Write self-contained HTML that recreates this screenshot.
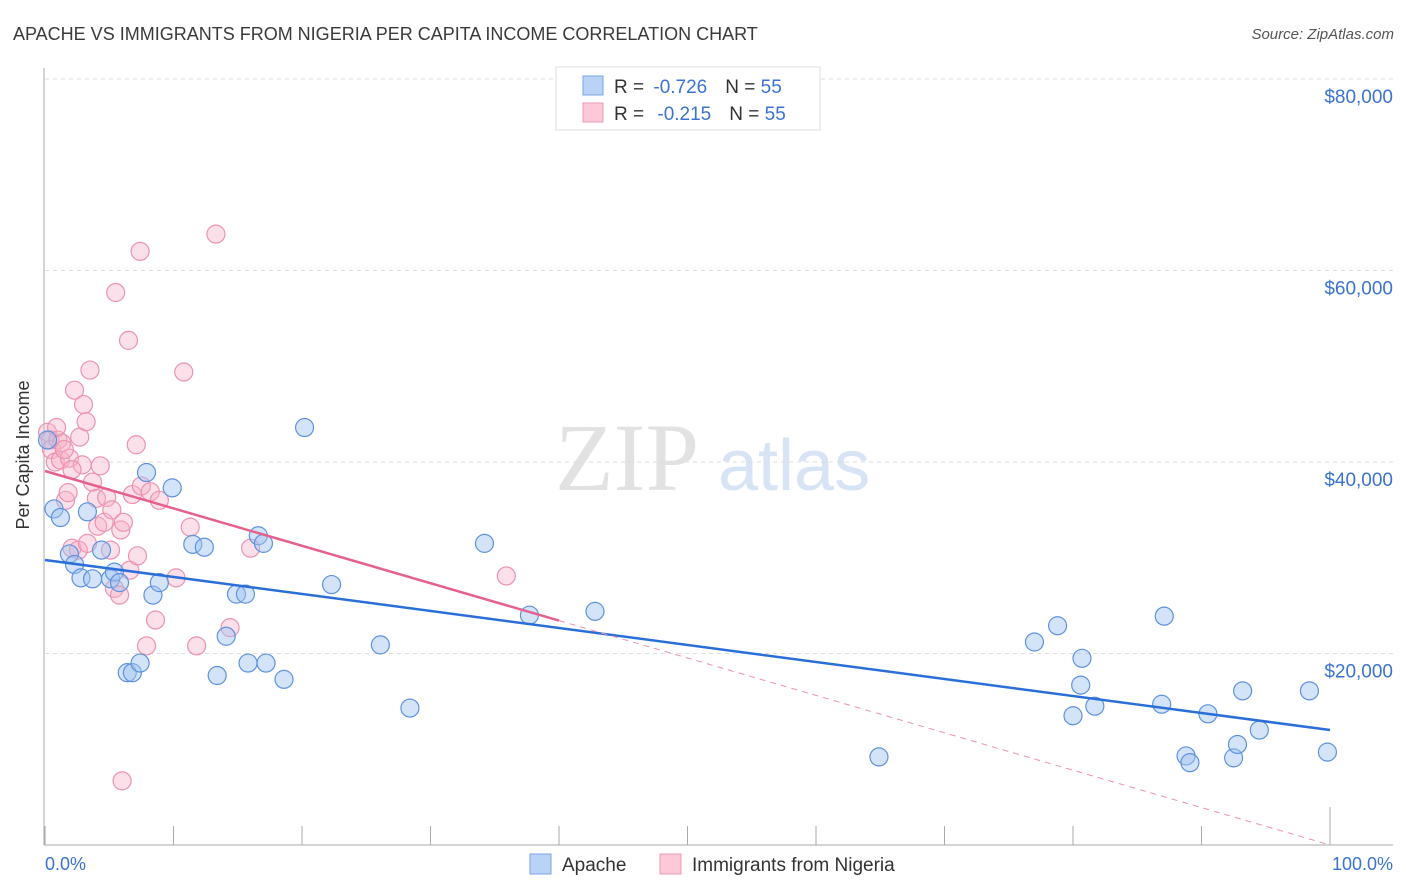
<!DOCTYPE html>
<html><head><meta charset="utf-8"><style>
body{margin:0;background:#fff;font-family:"Liberation Sans",sans-serif;}
svg{display:block}
</style></head><body>
<svg id="chart" width="1406" height="892" viewBox="0 0 1406 892">
<text x="13" y="40" font-size="18" fill="#3a3a3a">APACHE VS IMMIGRANTS FROM NIGERIA PER CAPITA INCOME CORRELATION CHART</text>
<text x="1394" y="39" font-size="15" fill="#555" font-style="italic" text-anchor="end">Source: ZipAtlas.com</text>
<g>
<text x="555" y="490" font-size="96" font-family="Liberation Serif,serif" fill="#e2e2e2">ZIP</text>
<text x="718" y="490" font-size="72" fill="#d6e4f5">atlas</text>
</g>
<g id="grid"></g>
<line x1="44" y1="68" x2="44" y2="845" stroke="#aaa"/>
<line x1="44" y1="845" x2="1393" y2="845" stroke="#aaa"/>
<g id="ticks"></g>
<text x="29" y="455" font-size="18" fill="#333" text-anchor="middle" transform="rotate(-90 29 455)">Per Capita Income</text>
<text x="45" y="870" font-size="18" fill="#3b73d1">0.0%</text>
<text x="1393" y="870" font-size="18" fill="#3b73d1" text-anchor="end">100.0%</text>
<g id="points"></g>
<g id="lines"></g>
<g>
<rect x="556" y="67" width="264" height="63" fill="#fff" stroke="#ddd"/>
<rect x="583" y="76" width="20" height="19" fill="#b8d3f5" stroke="#7aa6e6"/>
<rect x="583" y="103" width="20" height="19" fill="#fcc9d8" stroke="#ee9ab5"/>
<text x="614" y="93" font-size="19" fill="#333">R = <tspan fill="#3b73d1" dx="4">-0.726</tspan><tspan dx="18" fill="#333">N = </tspan><tspan fill="#3b73d1">55</tspan></text>
<text x="614" y="120" font-size="19" fill="#333">R = <tspan fill="#3b73d1" dx="8">-0.215</tspan><tspan dx="18" fill="#333">N = </tspan><tspan fill="#3b73d1">55</tspan></text>
</g>
<g>
<rect x="530" y="854" width="21" height="20" fill="#b8d3f5" stroke="#7aa6e6"/>
<text x="562" y="871" font-size="19" fill="#333">Apache</text>
<rect x="660" y="854" width="21" height="20" fill="#fcc9d8" stroke="#ee9ab5"/>
<text x="692" y="871" font-size="19" fill="#333">Immigrants from Nigeria</text>
</g>
</svg>
<script>
const yTicks=[20000,40000,60000,80000];
const yTickLabels=["$20,000","$40,000","$60,000","$80,000"];
const xTickPcts=[0,10,20,30,40,50,60,70,80,90,100];
const apacheX=[0.7,1.2,1.9,2.3,2.8,3.3,3.7,4.4,5.1,5.4,5.8,6.4,6.8,7.4,7.9,8.4,8.9,9.9,11.5,12.4,13.4,14.1,14.9,15.6,15.8,16.6,17.0,17.2,18.6,20.2,22.3,26.1,28.4,34.2,37.7,42.8,64.9,77.0,78.8,80.0,80.6,80.7,81.7,86.9,87.1,88.8,89.1,90.5,92.5,92.8,93.2,94.5,98.4,99.8,0.2];
const apacheY=[35.1,34.2,30.4,29.3,27.9,34.8,27.8,30.8,27.8,28.5,27.4,18.0,18.0,19.0,38.9,26.1,27.4,37.3,31.4,31.1,17.7,21.8,26.2,26.2,19.0,32.3,31.5,19.0,17.3,43.6,27.2,20.9,14.3,31.5,24.0,24.4,9.2,21.2,22.9,13.5,16.7,19.5,14.5,14.7,23.9,9.3,8.6,13.7,9.1,10.5,16.1,12.0,16.1,9.7,42.3];
const nigX=[0.2,0.4,0.5,0.8,1.0,1.2,1.3,1.6,1.8,1.9,2.1,2.3,2.6,2.7,2.9,3.0,3.2,3.3,3.5,3.7,4.0,4.1,4.3,4.6,4.8,5.1,5.2,5.4,5.5,5.8,5.9,6.1,6.5,6.6,6.8,7.1,7.2,7.4,7.5,7.9,8.2,8.6,8.9,10.8,11.3,11.8,13.3,14.4,16.0,10.2,6.0,35.9,1.5,0.9,2.1];
const nigY=[43.1,42.3,41.3,40.0,42.3,40.2,42.0,36.0,36.8,40.4,31.0,47.5,30.8,42.6,39.7,46.0,44.2,31.5,49.6,37.9,36.2,33.3,39.6,33.7,36.3,30.8,35.0,26.8,57.7,26.1,32.9,33.7,52.7,28.7,36.6,41.8,30.2,62.0,37.5,20.8,36.9,23.5,36.0,49.4,33.2,20.8,63.8,22.7,31.0,27.9,6.7,28.1,41.3,43.6,39.2];
const apacheTrend=[29.77,12.01];
const nigTrend=[39.06,0];
const nigSolidEnd=40;
const NS='http://www.w3.org/2000/svg';
const X=p=>45+p*12.85;
const Y=v=>845-v/20000*191.5;
const Yk=k=>Y(k*1000);
function mk(tag,attrs,parent){const e=document.createElementNS(NS,tag);for(const k in attrs)e.setAttribute(k,attrs[k]);document.getElementById(parent).appendChild(e);return e;}
yTicks.forEach((t,i)=>{
 const l=mk('line',{x1:45,x2:1393,y1:Y(t),y2:Y(t),stroke:'#ddd','stroke-dasharray':'4,4'},'grid');
 
 
 const tx=mk('text',{x:1393,y:Y(t)+24,'font-size':19,fill:'#3b73d1','text-anchor':'end'},'grid');
 tx.textContent=yTickLabels[i];
 
 
});
xTickPcts.forEach(p=>{
 const l=mk('line',{x1:X(p),x2:X(p),y1:p===100?807:826,y2:845,stroke:'#aaa'},'ticks');
 
 
});
function pts(xs,ys,fill,stroke,name){
 xs.forEach((x,i)=>{
  const c=mk('circle',{cx:X(x),cy:Yk(ys[i]),r:9,fill:fill,stroke:stroke,'stroke-width':1.2},'points');
  
  
 });
}
pts(nigX,nigY,'rgba(247,178,200,0.4)','#eb93b0','nigeria-point');
pts(apacheX,apacheY,'rgba(160,196,240,0.45)','#5e92df','apache-point');
const tb=mk('line',{x1:X(0),y1:Yk(apacheTrend[0]),x2:X(100),y2:Yk(apacheTrend[1]),stroke:'#2a6fd8','stroke-width':2.5},'lines');


const nAt=p=>nigTrend[0]+(nigTrend[1]-nigTrend[0])*p/100;
const tp=mk('line',{x1:X(0),y1:Yk(nigTrend[0]),x2:X(nigSolidEnd),y2:Yk(nAt(nigSolidEnd)),stroke:'#e5608d','stroke-width':2.5},'lines');


const td=mk('line',{x1:X(nigSolidEnd),y1:Yk(nAt(nigSolidEnd)),x2:X(100),y2:Yk(nigTrend[1]),stroke:'#eb93b0','stroke-width':1,'stroke-dasharray':'6,5'},'lines');


</script>
</body></html>
